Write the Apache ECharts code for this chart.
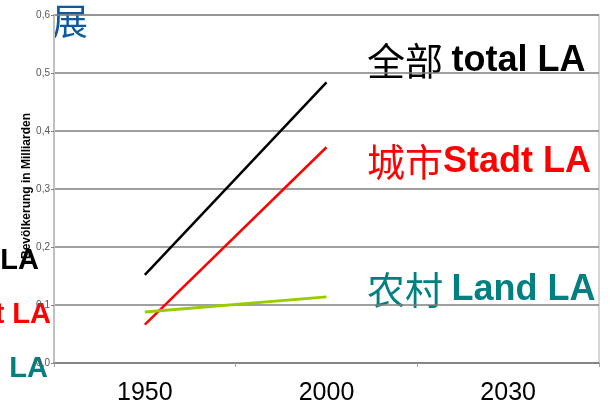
<!DOCTYPE html>
<html>
<head>
<meta charset="utf-8">
<style>html,body{margin:0;padding:0;background:#fff;}#chart{width:615px;height:407px;}</style>
<script src="https://cdn.jsdelivr.net/npm/echarts@6/dist/echarts.min.js"></script>
</head>
<body>
<div id="chart"></div>
<script>
var categories = ['1950', '2000', '2030'];
var totalLA = [0.152, 0.484, null];
var stadtLA = [0.066, 0.372, null];
var landLA = [0.088, 0.114, null];
var yMin = 0, yMax = 0.6, yStep = 0.1;
var axisName = 'Bevölkerung in Milliarden';

var chart = echarts.init(document.getElementById('chart'), null, {renderer: 'canvas'});
var CJK = '"Noto Sans CJK SC", sans-serif';
var LAT = '"Liberation Sans", Arial, sans-serif';
function richStyle(color, cnSize, enSize) {
  return {
    cn: {fontFamily: CJK, fontSize: cnSize, fontWeight: 'normal', fill: color, color: color},
    en: {fontFamily: LAT, fontSize: enSize, fontWeight: 'bold', fill: color, color: color}
  };
}
var option = {
  animation: false,
  backgroundColor: '#ffffff',
  grid: {left: 54, right: 16, top: 15, bottom: 44, show: true, borderColor: '#c8c8c8', borderWidth: 1.5, backgroundColor: 'transparent'},
  xAxis: {
    type: 'category',
    data: categories,
    boundaryGap: true,
    axisLine: {show: true, lineStyle: {color: '#808080', width: 1.5}},
    axisTick: {show: true, length: 4, lineStyle: {color: '#a0a0a0', width: 1}},
    axisLabel: {color: '#000', fontSize: 25, fontFamily: LAT, margin: 18},
    splitLine: {show: false}
  },
  yAxis: {
    type: 'value',
    min: yMin, max: yMax, interval: yStep,
    axisLine: {show: true, lineStyle: {color: '#c0c0c0', width: 2}},
    axisTick: {show: true, length: 3, lineStyle: {color: '#808080'}},
    axisLabel: {color: '#555', fontSize: 10, fontFamily: '"Liberation Sans Narrow", "Liberation Sans", sans-serif', margin: 4,
      formatter: function (v) { return v.toFixed(1).replace('.', ','); }},
    splitLine: {show: true, lineStyle: {color: '#7f7f7f', width: 1.5}}
  },
  series: [
    {type: 'line', data: totalLA, showSymbol: false, symbol: 'none', lineStyle: {color: '#000000', width: 2.5}, z: 3},
    {type: 'line', data: stadtLA, showSymbol: false, symbol: 'none', lineStyle: {color: '#ff0000', width: 2.5}, z: 4},
    {type: 'line', data: landLA, showSymbol: false, symbol: 'none', lineStyle: {color: '#99cc00', width: 3}, z: 5}
  ],
  graphic: [
    {type: 'text', left: 52, top: 3, style: {text: '展', font: 'normal 36px ' + CJK, fill: '#0b5aa2'}},
    {type: 'text', x: 367, y: 61, style: {text: '{cn|全部 }{en|total LA}', rich: richStyle('#000000', 38, 36), verticalAlign: 'middle', align: 'left'}},
    {type: 'text', x: 367, y: 162, style: {text: '{cn|城市}{en|Stadt LA}', rich: richStyle('#ff0000', 38, 36), verticalAlign: 'middle', align: 'left'}},
    {type: 'text', x: 367, y: 290, style: {text: '{cn|农村 }{en|Land LA}', rich: richStyle('#008080', 38, 36), verticalAlign: 'middle', align: 'left'}},
    {type: 'text', x: 39, y: 261, style: {text: '{cn|全部 }{en|total LA}', rich: richStyle('#000000', 29, 29), verticalAlign: 'middle', align: 'right'}},
    {type: 'text', x: 51, y: 315, style: {text: '{cn|城市}{en|Stadt LA}', rich: richStyle('#ff0000', 29, 29), verticalAlign: 'middle', align: 'right'}},
    {type: 'text', x: 48, y: 369, style: {text: '{cn|农村 }{en|Land LA}', rich: richStyle('#008080', 29, 29), verticalAlign: 'middle', align: 'right'}},
    {type: 'text', x: 27, y: 186, rotation: Math.PI / 2, style: {text: axisName, font: 'bold 12px ' + LAT, fill: '#000', align: 'center', verticalAlign: 'middle'}}
  ]
};
chart.setOption(option);
</script>
</body>
</html>
